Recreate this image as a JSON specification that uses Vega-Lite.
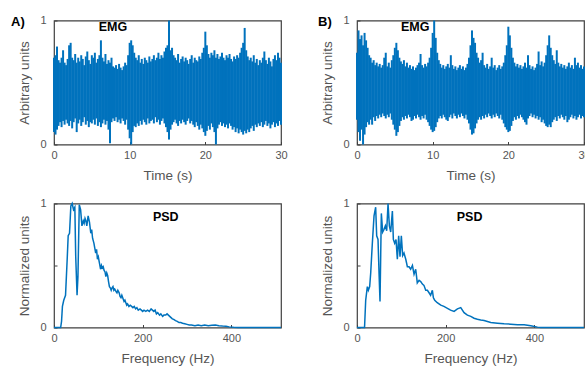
{
"$schema": "https://vega.github.io/schema/vega-lite/v6.json",
"padding": {"left": 10, "top": 13.5, "right": 0, "bottom": 0},
"columns": 2,
"bounds": "flush",
"spacing": {"row": 59, "column": 76},
"datasets": {
"emgA": [
{"t":0.0,"lo":0.10,"hi":0.70},{"t":0.2,"lo":0.08,"hi":0.72},{"t":0.4,"lo":0.12,"hi":0.79},{"t":0.6,"lo":0.15,"hi":0.68},{"t":0.8,"lo":0.18,"hi":0.66},
{"t":1.0,"lo":0.14,"hi":0.70},{"t":1.2,"lo":0.19,"hi":0.76},{"t":1.4,"lo":0.16,"hi":0.66},{"t":1.6,"lo":0.20,"hi":0.64},{"t":1.8,"lo":0.17,"hi":0.69},
{"t":2.0,"lo":0.15,"hi":0.80},{"t":2.2,"lo":0.19,"hi":0.82},{"t":2.4,"lo":0.13,"hi":0.70},{"t":2.6,"lo":0.18,"hi":0.68},{"t":2.8,"lo":0.21,"hi":0.73},
{"t":3.0,"lo":0.10,"hi":0.66},{"t":3.2,"lo":0.17,"hi":0.70},{"t":3.4,"lo":0.20,"hi":0.67},{"t":3.6,"lo":0.15,"hi":0.72},{"t":3.8,"lo":0.18,"hi":0.69},
{"t":4.0,"lo":0.22,"hi":0.64},{"t":4.2,"lo":0.16,"hi":0.71},{"t":4.4,"lo":0.19,"hi":0.75},{"t":4.6,"lo":0.14,"hi":0.68},{"t":4.8,"lo":0.18,"hi":0.65},
{"t":5.0,"lo":0.17,"hi":0.72},{"t":5.2,"lo":0.20,"hi":0.70},{"t":5.4,"lo":0.16,"hi":0.74},{"t":5.6,"lo":0.21,"hi":0.66},{"t":5.8,"lo":0.15,"hi":0.69},
{"t":6.0,"lo":0.18,"hi":0.72},{"t":6.2,"lo":0.14,"hi":0.84},{"t":6.4,"lo":0.17,"hi":0.70},{"t":6.6,"lo":0.20,"hi":0.67},{"t":6.8,"lo":0.16,"hi":0.73},
{"t":7.0,"lo":0.19,"hi":0.65},{"t":7.2,"lo":0.12,"hi":0.68},{"t":7.4,"lo":0.01,"hi":0.66},{"t":7.6,"lo":0.18,"hi":0.70},{"t":7.8,"lo":0.21,"hi":0.63},
{"t":8.0,"lo":0.19,"hi":0.62},{"t":8.2,"lo":0.22,"hi":0.64},{"t":8.4,"lo":0.18,"hi":0.61},{"t":8.6,"lo":0.20,"hi":0.65},{"t":8.8,"lo":0.17,"hi":0.62},
{"t":9.0,"lo":0.21,"hi":0.60},{"t":9.2,"lo":0.19,"hi":0.63},{"t":9.4,"lo":0.16,"hi":0.66},{"t":9.6,"lo":0.20,"hi":0.64},{"t":9.8,"lo":0.12,"hi":0.72},
{"t":10.0,"lo":0.05,"hi":0.82},{"t":10.2,"lo":0.00,"hi":0.84},{"t":10.4,"lo":0.10,"hi":0.80},{"t":10.6,"lo":0.15,"hi":0.74},{"t":10.8,"lo":0.14,"hi":0.70},
{"t":11.0,"lo":0.17,"hi":0.68},{"t":11.2,"lo":0.15,"hi":0.72},{"t":11.4,"lo":0.19,"hi":0.66},{"t":11.6,"lo":0.16,"hi":0.69},{"t":11.8,"lo":0.20,"hi":0.65},
{"t":12.0,"lo":0.18,"hi":0.70},{"t":12.2,"lo":0.16,"hi":0.68},{"t":12.4,"lo":0.21,"hi":0.66},{"t":12.6,"lo":0.17,"hi":0.71},{"t":12.8,"lo":0.19,"hi":0.67},
{"t":13.0,"lo":0.20,"hi":0.69},{"t":13.2,"lo":0.17,"hi":0.72},{"t":13.4,"lo":0.22,"hi":0.68},{"t":13.6,"lo":0.18,"hi":0.70},{"t":13.8,"lo":0.20,"hi":0.74},
{"t":14.0,"lo":0.16,"hi":0.69},{"t":14.2,"lo":0.19,"hi":0.72},{"t":14.4,"lo":0.21,"hi":0.70},{"t":14.6,"lo":0.17,"hi":0.75},{"t":14.8,"lo":0.14,"hi":0.78},
{"t":15.0,"lo":0.10,"hi":0.80},{"t":15.2,"lo":0.04,"hi":1.00},{"t":15.4,"lo":0.12,"hi":0.76},{"t":15.6,"lo":0.16,"hi":0.78},{"t":15.8,"lo":0.18,"hi":0.72},
{"t":16.0,"lo":0.20,"hi":0.70},{"t":16.2,"lo":0.17,"hi":0.68},{"t":16.4,"lo":0.15,"hi":0.73},{"t":16.6,"lo":0.19,"hi":0.66},{"t":16.8,"lo":0.17,"hi":0.69},
{"t":17.0,"lo":0.20,"hi":0.71},{"t":17.2,"lo":0.18,"hi":0.67},{"t":17.4,"lo":0.16,"hi":0.70},{"t":17.6,"lo":0.19,"hi":0.68},{"t":17.8,"lo":0.21,"hi":0.65},
{"t":18.0,"lo":0.17,"hi":0.69},{"t":18.2,"lo":0.19,"hi":0.72},{"t":18.4,"lo":0.16,"hi":0.66},{"t":18.6,"lo":0.14,"hi":0.70},{"t":18.8,"lo":0.18,"hi":0.68},
{"t":19.0,"lo":0.15,"hi":0.67},{"t":19.2,"lo":0.12,"hi":0.71},{"t":19.4,"lo":0.16,"hi":0.69},{"t":19.6,"lo":0.13,"hi":0.74},{"t":19.8,"lo":0.10,"hi":0.78},
{"t":20.0,"lo":0.07,"hi":0.91},{"t":20.2,"lo":0.11,"hi":0.80},{"t":20.4,"lo":0.15,"hi":0.73},{"t":20.6,"lo":0.12,"hi":0.70},{"t":20.8,"lo":0.17,"hi":0.74},
{"t":21.0,"lo":0.14,"hi":0.72},{"t":21.2,"lo":0.10,"hi":0.76},{"t":21.4,"lo":0.00,"hi":0.70},{"t":21.6,"lo":0.13,"hi":0.73},{"t":21.8,"lo":0.16,"hi":0.69},
{"t":22.0,"lo":0.18,"hi":0.71},{"t":22.2,"lo":0.15,"hi":0.74},{"t":22.4,"lo":0.17,"hi":0.70},{"t":22.6,"lo":0.14,"hi":0.68},{"t":22.8,"lo":0.16,"hi":0.72},
{"t":23.0,"lo":0.13,"hi":0.70},{"t":23.2,"lo":0.17,"hi":0.73},{"t":23.4,"lo":0.15,"hi":0.69},{"t":23.6,"lo":0.12,"hi":0.67},{"t":23.8,"lo":0.14,"hi":0.71},
{"t":24.0,"lo":0.10,"hi":0.69},{"t":24.2,"lo":0.13,"hi":0.72},{"t":24.4,"lo":0.09,"hi":0.70},{"t":24.6,"lo":0.12,"hi":0.74},{"t":24.8,"lo":0.10,"hi":0.78},
{"t":25.0,"lo":0.08,"hi":0.82},{"t":25.2,"lo":0.11,"hi":0.94},{"t":25.4,"lo":0.09,"hi":0.76},{"t":25.6,"lo":0.12,"hi":0.71},{"t":25.8,"lo":0.10,"hi":0.68},
{"t":26.0,"lo":0.13,"hi":0.70},{"t":26.2,"lo":0.15,"hi":0.67},{"t":26.4,"lo":0.11,"hi":0.72},{"t":26.6,"lo":0.16,"hi":0.66},{"t":26.8,"lo":0.14,"hi":0.69},
{"t":27.0,"lo":0.17,"hi":0.64},{"t":27.2,"lo":0.15,"hi":0.68},{"t":27.4,"lo":0.18,"hi":0.66},{"t":27.6,"lo":0.14,"hi":0.70},{"t":27.8,"lo":0.16,"hi":0.75},
{"t":28.0,"lo":0.19,"hi":0.68},{"t":28.2,"lo":0.15,"hi":0.65},{"t":28.4,"lo":0.17,"hi":0.70},{"t":28.6,"lo":0.13,"hi":0.67},{"t":28.8,"lo":0.16,"hi":0.63},
{"t":29.0,"lo":0.18,"hi":0.69},{"t":29.2,"lo":0.14,"hi":0.72},{"t":29.4,"lo":0.17,"hi":0.68},{"t":29.6,"lo":0.15,"hi":0.74},{"t":29.8,"lo":0.19,"hi":0.70},
{"t":30.0,"lo":0.16,"hi":0.66}
],
"emgB": [
{"t":0.0,"lo":0.20,"hi":0.74},{"t":0.2,"lo":0.10,"hi":0.92},{"t":0.4,"lo":0.03,"hi":0.85},{"t":0.6,"lo":0.12,"hi":0.88},{"t":0.8,"lo":0.00,"hi":0.80},
{"t":1.0,"lo":0.08,"hi":0.90},{"t":1.2,"lo":0.14,"hi":0.84},{"t":1.4,"lo":0.18,"hi":0.78},{"t":1.6,"lo":0.16,"hi":0.72},{"t":1.8,"lo":0.20,"hi":0.70},
{"t":2.0,"lo":0.16,"hi":0.66},{"t":2.2,"lo":0.22,"hi":0.68},{"t":2.4,"lo":0.19,"hi":0.64},{"t":2.6,"lo":0.23,"hi":0.66},{"t":2.8,"lo":0.21,"hi":0.63},
{"t":3.0,"lo":0.24,"hi":0.65},{"t":3.2,"lo":0.22,"hi":0.62},{"t":3.4,"lo":0.25,"hi":0.64},{"t":3.6,"lo":0.23,"hi":0.70},{"t":3.8,"lo":0.21,"hi":0.74},
{"t":4.0,"lo":0.24,"hi":0.63},{"t":4.2,"lo":0.22,"hi":0.66},{"t":4.4,"lo":0.25,"hi":0.62},{"t":4.6,"lo":0.20,"hi":0.68},{"t":4.8,"lo":0.16,"hi":0.72},
{"t":5.0,"lo":0.12,"hi":0.78},{"t":5.2,"lo":0.07,"hi":0.82},{"t":5.4,"lo":0.10,"hi":0.76},{"t":5.6,"lo":0.15,"hi":0.70},{"t":5.8,"lo":0.19,"hi":0.67},
{"t":6.0,"lo":0.22,"hi":0.65},{"t":6.2,"lo":0.20,"hi":0.68},{"t":6.4,"lo":0.23,"hi":0.63},{"t":6.6,"lo":0.21,"hi":0.66},{"t":6.8,"lo":0.24,"hi":0.62},
{"t":7.0,"lo":0.22,"hi":0.64},{"t":7.2,"lo":0.19,"hi":0.61},{"t":7.4,"lo":0.20,"hi":0.63},{"t":7.6,"lo":0.23,"hi":0.60},{"t":7.8,"lo":0.21,"hi":0.62},
{"t":8.0,"lo":0.24,"hi":0.64},{"t":8.2,"lo":0.22,"hi":0.66},{"t":8.4,"lo":0.20,"hi":0.73},{"t":8.6,"lo":0.23,"hi":0.64},{"t":8.8,"lo":0.21,"hi":0.62},
{"t":9.0,"lo":0.24,"hi":0.65},{"t":9.2,"lo":0.20,"hi":0.63},{"t":9.4,"lo":0.18,"hi":0.66},{"t":9.6,"lo":0.15,"hi":0.70},{"t":9.8,"lo":0.12,"hi":0.78},
{"t":10.0,"lo":0.10,"hi":0.90},{"t":10.2,"lo":0.11,"hi":1.00},{"t":10.4,"lo":0.14,"hi":0.86},{"t":10.6,"lo":0.18,"hi":0.74},{"t":10.8,"lo":0.21,"hi":0.68},
{"t":11.0,"lo":0.23,"hi":0.65},{"t":11.2,"lo":0.21,"hi":0.62},{"t":11.4,"lo":0.24,"hi":0.64},{"t":11.6,"lo":0.22,"hi":0.61},{"t":11.8,"lo":0.20,"hi":0.63},
{"t":12.0,"lo":0.19,"hi":0.65},{"t":12.2,"lo":0.22,"hi":0.62},{"t":12.4,"lo":0.24,"hi":0.72},{"t":12.6,"lo":0.21,"hi":0.64},{"t":12.8,"lo":0.25,"hi":0.61},
{"t":13.0,"lo":0.23,"hi":0.63},{"t":13.2,"lo":0.21,"hi":0.60},{"t":13.4,"lo":0.24,"hi":0.62},{"t":13.6,"lo":0.22,"hi":0.64},{"t":13.8,"lo":0.25,"hi":0.61},
{"t":14.0,"lo":0.23,"hi":0.63},{"t":14.2,"lo":0.21,"hi":0.60},{"t":14.4,"lo":0.24,"hi":0.62},{"t":14.6,"lo":0.20,"hi":0.65},{"t":14.8,"lo":0.17,"hi":0.70},
{"t":15.0,"lo":0.12,"hi":0.80},{"t":15.2,"lo":0.08,"hi":0.92},{"t":15.4,"lo":0.09,"hi":0.86},{"t":15.6,"lo":0.13,"hi":0.82},{"t":15.8,"lo":0.17,"hi":0.74},
{"t":16.0,"lo":0.20,"hi":0.70},{"t":16.2,"lo":0.22,"hi":0.66},{"t":16.4,"lo":0.20,"hi":0.68},{"t":16.6,"lo":0.23,"hi":0.74},{"t":16.8,"lo":0.21,"hi":0.64},
{"t":17.0,"lo":0.24,"hi":0.62},{"t":17.2,"lo":0.22,"hi":0.65},{"t":17.4,"lo":0.25,"hi":0.61},{"t":17.6,"lo":0.23,"hi":0.63},{"t":17.8,"lo":0.21,"hi":0.70},
{"t":18.0,"lo":0.24,"hi":0.62},{"t":18.2,"lo":0.22,"hi":0.64},{"t":18.4,"lo":0.25,"hi":0.60},{"t":18.6,"lo":0.23,"hi":0.62},{"t":18.8,"lo":0.21,"hi":0.64},
{"t":19.0,"lo":0.24,"hi":0.61},{"t":19.2,"lo":0.20,"hi":0.63},{"t":19.4,"lo":0.17,"hi":0.66},{"t":19.6,"lo":0.14,"hi":0.72},{"t":19.8,"lo":0.12,"hi":0.80},
{"t":20.0,"lo":0.10,"hi":0.95},{"t":20.2,"lo":0.11,"hi":0.88},{"t":20.4,"lo":0.15,"hi":0.78},{"t":20.6,"lo":0.19,"hi":0.70},{"t":20.8,"lo":0.22,"hi":0.66},
{"t":21.0,"lo":0.20,"hi":0.63},{"t":21.2,"lo":0.23,"hi":0.65},{"t":21.4,"lo":0.21,"hi":0.62},{"t":21.6,"lo":0.24,"hi":0.64},{"t":21.8,"lo":0.22,"hi":0.61},
{"t":22.0,"lo":0.20,"hi":0.63},{"t":22.2,"lo":0.18,"hi":0.66},{"t":22.4,"lo":0.16,"hi":0.62},{"t":22.6,"lo":0.21,"hi":0.72},{"t":22.8,"lo":0.23,"hi":0.64},
{"t":23.0,"lo":0.25,"hi":0.61},{"t":23.2,"lo":0.22,"hi":0.63},{"t":23.4,"lo":0.24,"hi":0.60},{"t":23.6,"lo":0.21,"hi":0.62},{"t":23.8,"lo":0.23,"hi":0.65},
{"t":24.0,"lo":0.20,"hi":0.75},{"t":24.2,"lo":0.22,"hi":0.64},{"t":24.4,"lo":0.18,"hi":0.67},{"t":24.6,"lo":0.20,"hi":0.63},{"t":24.8,"lo":0.17,"hi":0.66},
{"t":25.0,"lo":0.15,"hi":0.72},{"t":25.2,"lo":0.14,"hi":0.80},{"t":25.4,"lo":0.16,"hi":0.88},{"t":25.6,"lo":0.14,"hi":0.78},{"t":25.8,"lo":0.18,"hi":0.72},
{"t":26.0,"lo":0.20,"hi":0.68},{"t":26.2,"lo":0.22,"hi":0.65},{"t":26.4,"lo":0.19,"hi":0.76},{"t":26.6,"lo":0.23,"hi":0.66},{"t":26.8,"lo":0.21,"hi":0.63},
{"t":27.0,"lo":0.24,"hi":0.65},{"t":27.2,"lo":0.22,"hi":0.62},{"t":27.4,"lo":0.20,"hi":0.64},{"t":27.6,"lo":0.23,"hi":0.61},{"t":27.8,"lo":0.18,"hi":0.63},
{"t":28.0,"lo":0.20,"hi":0.66},{"t":28.2,"lo":0.22,"hi":0.62},{"t":28.4,"lo":0.24,"hi":0.64},{"t":28.6,"lo":0.21,"hi":0.61},{"t":28.8,"lo":0.23,"hi":0.70},
{"t":29.0,"lo":0.20,"hi":0.64},{"t":29.2,"lo":0.22,"hi":0.66},{"t":29.4,"lo":0.24,"hi":0.62},{"t":29.6,"lo":0.21,"hi":0.64},{"t":29.8,"lo":0.23,"hi":0.61},
{"t":30.0,"lo":0.22,"hi":0.63}
],
"psdA": [
{"f":0,"v":0},{"f":15,"v":0},{"f":17,"v":0.05},{"f":19,"v":0.17},{"f":22,"v":0.22},{"f":26,"v":0.26},{"f":30,"v":0.57},{"f":32,"v":0.74},{"f":35,"v":0.76},{"f":38,"v":0.98},
{"f":41,"v":1.0},{"f":44,"v":0.95},{"f":47,"v":0.97},{"f":49,"v":0.57},{"f":52,"v":0.26},{"f":54,"v":0.41},{"f":57,"v":0.99},{"f":60,"v":0.95},{"f":63,"v":0.82},{"f":66,"v":0.86},
{"f":68,"v":0.84},{"f":70,"v":0.88},{"f":72,"v":0.86},{"f":74,"v":0.82},{"f":77,"v":0.9},{"f":80,"v":0.85},{"f":83,"v":0.76},{"f":85,"v":0.79},{"f":87,"v":0.72},{"f":90,"v":0.68},
{"f":92,"v":0.64},{"f":94,"v":0.6},{"f":96,"v":0.63},{"f":98,"v":0.55},{"f":100,"v":0.57},{"f":102,"v":0.53},{"f":105,"v":0.47},{"f":107,"v":0.5},{"f":109,"v":0.48},{"f":111,"v":0.49},
{"f":113,"v":0.46},{"f":115,"v":0.45},{"f":117,"v":0.41},{"f":119,"v":0.44},{"f":121,"v":0.42},{"f":123,"v":0.37},{"f":125,"v":0.33},{"f":127,"v":0.32},{"f":129,"v":0.3},{"f":131,"v":0.32},
{"f":133,"v":0.33},{"f":135,"v":0.3},{"f":137,"v":0.31},{"f":140,"v":0.29},{"f":142,"v":0.28},{"f":144,"v":0.3},{"f":147,"v":0.28},{"f":149,"v":0.25},{"f":151,"v":0.24},{"f":153,"v":0.26},
{"f":156,"v":0.23},{"f":158,"v":0.21},{"f":160,"v":0.22},{"f":162,"v":0.2},{"f":164,"v":0.18},{"f":166,"v":0.19},{"f":169,"v":0.17},{"f":172,"v":0.18},{"f":175,"v":0.17},{"f":178,"v":0.16},
{"f":181,"v":0.17},{"f":184,"v":0.15},{"f":187,"v":0.16},{"f":190,"v":0.14},{"f":194,"v":0.15},{"f":197,"v":0.14},{"f":200,"v":0.13},{"f":203,"v":0.14},{"f":207,"v":0.13},{"f":211,"v":0.14},
{"f":215,"v":0.13},{"f":219,"v":0.15},{"f":222,"v":0.14},{"f":225,"v":0.13},{"f":228,"v":0.14},{"f":231,"v":0.11},{"f":234,"v":0.12},{"f":238,"v":0.1},{"f":241,"v":0.11},{"f":245,"v":0.09},
{"f":248,"v":0.1},{"f":252,"v":0.1},{"f":255,"v":0.11},{"f":258,"v":0.1},{"f":261,"v":0.09},{"f":264,"v":0.08},{"f":267,"v":0.07},{"f":270,"v":0.065},{"f":274,"v":0.055},{"f":278,"v":0.05},
{"f":282,"v":0.04},{"f":286,"v":0.04},{"f":290,"v":0.035},{"f":295,"v":0.03},{"f":300,"v":0.025},{"f":305,"v":0.02},{"f":310,"v":0.02},{"f":318,"v":0.015},{"f":325,"v":0.02},{"f":332,"v":0.015},
{"f":340,"v":0.02},{"f":348,"v":0.015},{"f":356,"v":0.018},{"f":364,"v":0.02},{"f":372,"v":0.015},{"f":380,"v":0.012},{"f":388,"v":0.01},{"f":395,"v":0.005},{"f":405,"v":0.002},{"f":415,"v":0},
{"f":512,"v":0}
],
"psdB": [
{"f":0,"v":0},{"f":17,"v":0},{"f":19.6,"v":0.22},{"f":23.3,"v":0.33},{"f":25.6,"v":0.3},{"f":28.6,"v":0.33},{"f":30.9,"v":0.44},{"f":34.6,"v":0.68},{"f":38.4,"v":0.9},{"f":42.1,"v":0.97},
{"f":44.4,"v":0.74},{"f":47.4,"v":0.71},{"f":49.7,"v":0.44},{"f":51.9,"v":0.21},{"f":54.9,"v":0.92},{"f":57.9,"v":0.77},{"f":60.9,"v":0.79},{"f":64,"v":0.82},{"f":67,"v":0.78},{"f":70,"v":1.0},
{"f":73,"v":0.82},{"f":76,"v":0.77},{"f":79.8,"v":0.94},{"f":82,"v":0.71},{"f":85,"v":0.68},{"f":88,"v":0.71},{"f":91,"v":0.55},{"f":94,"v":0.74},{"f":97,"v":0.57},{"f":100,"v":0.74},
{"f":103,"v":0.58},{"f":106,"v":0.6},{"f":110,"v":0.55},{"f":113.6,"v":0.49},{"f":117.4,"v":0.49},{"f":121,"v":0.47},{"f":125,"v":0.5},{"f":128.7,"v":0.43},{"f":132.4,"v":0.47},{"f":136,"v":0.36},
{"f":140,"v":0.38},{"f":143.7,"v":0.37},{"f":147.5,"v":0.35},{"f":151,"v":0.34},{"f":155,"v":0.3},{"f":158.8,"v":0.3},{"f":162.5,"v":0.28},{"f":166,"v":0.26},{"f":170,"v":0.3},{"f":172.3,"v":0.24},
{"f":175.3,"v":0.22},{"f":181,"v":0.2},{"f":189,"v":0.18},{"f":196,"v":0.17},{"f":204,"v":0.155},{"f":211,"v":0.14},{"f":219,"v":0.13},{"f":226.5,"v":0.15},{"f":234,"v":0.16},{"f":241.5,"v":0.12},
{"f":249,"v":0.1},{"f":256.6,"v":0.09},{"f":264,"v":0.075},{"f":271.6,"v":0.067},{"f":279,"v":0.06},{"f":286.7,"v":0.057},{"f":301.7,"v":0.04},{"f":316.8,"v":0.035},{"f":331.8,"v":0.03},{"f":347,"v":0.027},
{"f":362,"v":0.022},{"f":377,"v":0.022},{"f":392,"v":0.014},{"f":407,"v":0.003},{"f":414.6,"v":0},{"f":512,"v":0}
]
},
"concat": [
{
"width": 227, "height": 124,
"title": {"text": "A)", "dx": -43, "dy": 18},
"layer": [
{"data": {"name": "emgA"}, "mark": {"type": "rule", "color": "#0072BD", "strokeWidth": 2},
"encoding": {
"x": {"field": "t", "type": "quantitative", "scale": {"domain": [0, 30], "nice": false}, "axis": {"values": [0, 10, 20, 30], "title": "Time (s)"}},
"y": {"field": "lo", "type": "quantitative", "scale": {"domain": [0, 1], "nice": false}, "axis": {"values": [0, 0.5, 1], "labelExpr": "datum.value == 0 ? '0' : (datum.value == 1 ? '1' : '')", "title": "Arbitrary units", "labelPadding": 11, "titlePadding": 8}},
"y2": {"field": "hi"}}},
{"data": {"values": [{"t": 7.8, "v": 0.95, "label": "EMG"}]}, "mark": {"type": "text", "fontWeight": "bold", "fontSize": 12.5, "color": "#000", "font": "Liberation Sans"},
"encoding": {"x": {"field": "t", "type": "quantitative"}, "y": {"field": "v", "type": "quantitative"}, "text": {"field": "label"}}}
]
},
{
"width": 227, "height": 124,
"title": {"text": "B)", "dx": -39, "dy": 18},
"layer": [
{"data": {"name": "emgB"}, "mark": {"type": "rule", "color": "#0072BD", "strokeWidth": 2},
"encoding": {
"x": {"field": "t", "type": "quantitative", "scale": {"domain": [0, 30], "nice": false}, "axis": {"values": [0, 10, 20, 30], "title": "Time (s)"}},
"y": {"field": "lo", "type": "quantitative", "scale": {"domain": [0, 1], "nice": false}, "axis": {"values": [0, 0.5, 1], "labelExpr": "datum.value == 0 ? '0' : (datum.value == 1 ? '1' : '')", "title": "Arbitrary units", "labelPadding": 11, "titlePadding": 8}},
"y2": {"field": "hi"}}},
{"data": {"values": [{"t": 7.7, "v": 0.95, "label": "EMG"}]}, "mark": {"type": "text", "fontWeight": "bold", "fontSize": 12.5, "color": "#000", "font": "Liberation Sans"},
"encoding": {"x": {"field": "t", "type": "quantitative"}, "y": {"field": "v", "type": "quantitative"}, "text": {"field": "label"}}}
]
},
{
"width": 227, "height": 124,
"layer": [
{"data": {"name": "psdA"}, "mark": {"type": "line", "color": "#0072BD", "strokeWidth": 1.5},
"encoding": {
"x": {"field": "f", "type": "quantitative", "scale": {"domain": [0, 512], "nice": false}, "axis": {"values": [0, 200, 400], "title": "Frequency (Hz)"}},
"y": {"field": "v", "type": "quantitative", "scale": {"domain": [0, 1], "nice": false}, "axis": {"values": [0, 0.5, 1], "labelExpr": "datum.value == 0 ? '0' : (datum.value == 1 ? '1' : '')", "title": "Normalized units", "labelPadding": 11, "titlePadding": 8}}}},
{"data": {"values": [{"f": 252, "v": 0.895, "label": "PSD"}]}, "mark": {"type": "text", "fontWeight": "bold", "fontSize": 12.5, "color": "#000", "font": "Liberation Sans"},
"encoding": {"x": {"field": "f", "type": "quantitative"}, "y": {"field": "v", "type": "quantitative"}, "text": {"field": "label"}}}
]
},
{
"width": 227, "height": 124,
"layer": [
{"data": {"name": "psdB"}, "mark": {"type": "line", "color": "#0072BD", "strokeWidth": 1.5},
"encoding": {
"x": {"field": "f", "type": "quantitative", "scale": {"domain": [0, 512], "nice": false}, "axis": {"values": [0, 200, 400], "title": "Frequency (Hz)"}},
"y": {"field": "v", "type": "quantitative", "scale": {"domain": [0, 1], "nice": false}, "axis": {"values": [0, 0.5, 1], "labelExpr": "datum.value == 0 ? '0' : (datum.value == 1 ? '1' : '')", "title": "Normalized units", "labelPadding": 11, "titlePadding": 8}}}},
{"data": {"values": [{"f": 254, "v": 0.895, "label": "PSD"}]}, "mark": {"type": "text", "fontWeight": "bold", "fontSize": 12.5, "color": "#000", "font": "Liberation Sans"},
"encoding": {"x": {"field": "f", "type": "quantitative"}, "y": {"field": "v", "type": "quantitative"}, "text": {"field": "label"}}}
]
}
],
"config": {
"font": "Liberation Sans",
"view": {"stroke": "#404040", "strokeWidth": 1.2},
"axis": {"grid": false, "domain": false, "ticks": true, "tickSize": -3, "tickColor": "#404040", "labelFont": "Liberation Sans", "labelFontSize": 11, "labelColor": "#555555", "labelPadding": 8, "titleFont": "Liberation Sans", "titleFontSize": 13.5, "titleFontWeight": "normal", "titleColor": "#555555", "titlePadding": 8, "labelFlush": false, "labelOverlap": false},
"title": {"anchor": "start", "frame": "group", "fontSize": 13, "fontWeight": "bold", "color": "#000000", "font": "Liberation Sans", "baseline": "middle", "offset": 0}
}
}
